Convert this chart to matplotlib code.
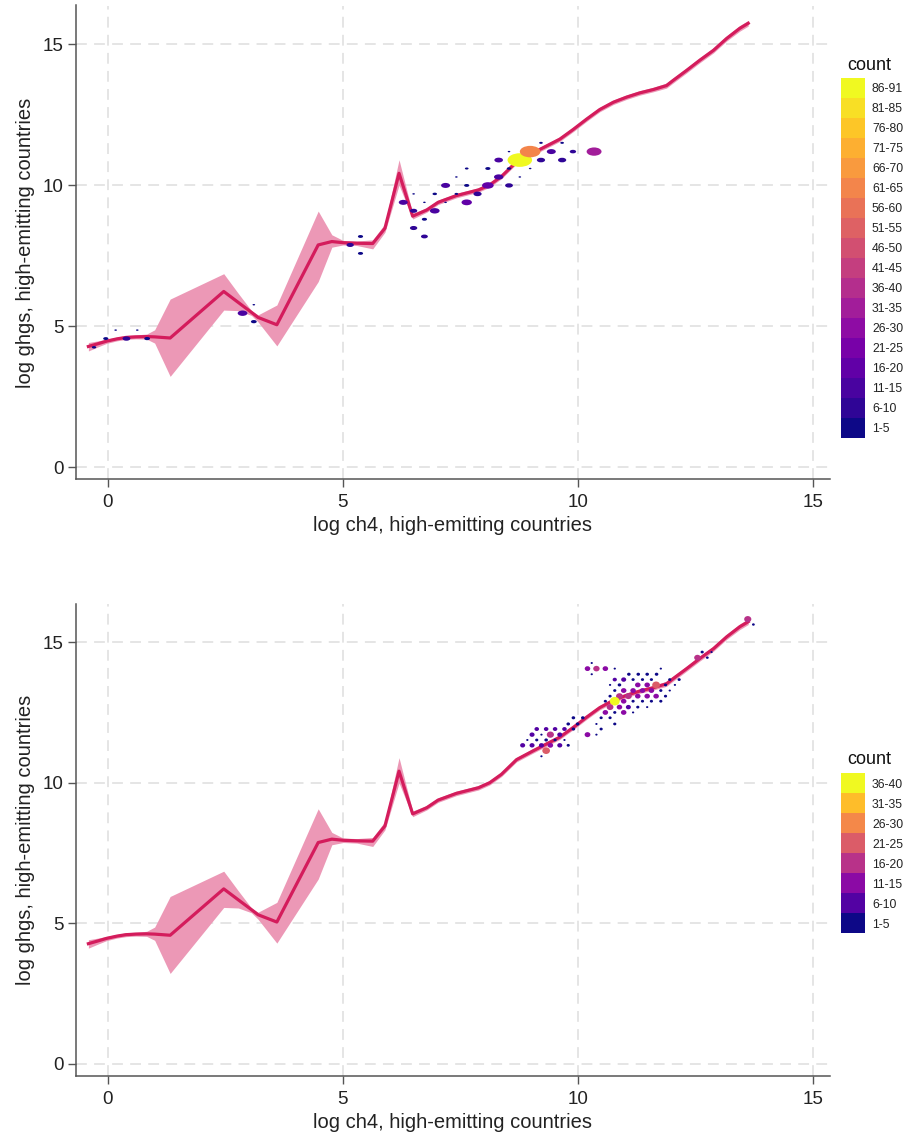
import numpy as np
import matplotlib
matplotlib.use("Agg")
import matplotlib.pyplot as plt
from matplotlib.colors import ListedColormap, BoundaryNorm
from matplotlib.cm import ScalarMappable
from matplotlib.path import Path
from matplotlib.transforms import Affine2D

plt.rcParams['font.family'] = ['Liberation Sans', 'DejaVu Sans']

# fitted curve with its confidence band
fit_x = [-0.41, -0.2, -0.02, 0.2, 0.39, 0.6, 0.83, 1.0, 1.33, 2.47, 2.78, 3.06, 3.2, 3.6,
         4.48, 4.77, 5.01, 5.3, 5.64, 5.9, 6.2, 6.49, 6.79, 7.03, 7.42, 7.89, 8.13, 8.38,
         8.7, 9.06, 9.34, 9.62, 9.91, 10.19, 10.47, 10.76, 11.04, 11.32, 11.61, 11.89,
         12.03, 12.32, 12.6, 12.89, 13.17, 13.45, 13.63]
fit_y = [4.28, 4.38, 4.47, 4.55, 4.6, 4.62, 4.63, 4.62, 4.58, 6.23, 5.84, 5.49, 5.31, 5.05,
         7.88, 8.0, 7.96, 7.94, 7.93, 8.47, 10.42, 8.9, 9.12, 9.39, 9.63, 9.83, 10.01, 10.31,
         10.83, 11.15, 11.39, 11.63, 11.98, 12.34, 12.68, 12.94, 13.12, 13.27, 13.39, 13.53,
         13.71, 14.07, 14.43, 14.78, 15.2, 15.56, 15.74]
band_lo = [4.12, 4.27, 4.39, 4.48, 4.53, 4.55, 4.54, 4.40, 3.22, 5.57, 5.55, 5.38, 5.15, 4.30,
           6.58, 7.80, 7.88, 7.86, 7.74, 8.33, 10.0, 8.80, 9.04, 9.31, 9.55, 9.75, 9.93, 10.23,
           10.75, 11.07, 11.31, 11.55, 11.90, 12.26, 12.60, 12.86, 13.04, 13.19, 13.31, 13.44,
           13.62, 13.98, 14.34, 14.69, 15.11, 15.46, 15.64]
band_hi = [4.42, 4.48, 4.54, 4.61, 4.67, 4.69, 4.72, 4.87, 5.96, 6.86, 6.16, 5.55, 5.40, 5.75,
           9.08, 8.24, 8.04, 8.02, 8.06, 8.63, 10.9, 9.00, 9.20, 9.47, 9.71, 9.91, 10.09, 10.39,
           10.91, 11.23, 11.47, 11.71, 12.06, 12.42, 12.76, 13.02, 13.20, 13.35, 13.47, 13.62,
           13.80, 14.16, 14.52, 14.87, 15.29, 15.66, 15.84]

# hex cells, upper panel
top_x = [-0.29, -0.04, 0.17, 0.40, 0.63, 0.84, 2.87, 3.11, 3.11,
         5.16, 5.38, 5.38,
         6.29, 6.51, 6.51, 6.51, 6.74, 6.74, 6.74, 6.96, 6.96, 7.19, 7.19,
         7.42, 7.42, 7.64, 7.64, 7.64, 7.87, 8.09, 8.09, 8.32, 8.32,
         8.54, 8.54, 8.54, 8.77, 8.77, 8.99, 8.99, 9.22, 9.22, 9.44,
         9.67, 9.67, 9.90, 10.35]
top_y = [4.25, 4.56, 4.86, 4.56, 4.86, 4.56, 5.46, 5.16, 5.76,
         7.88, 8.18, 7.58,
         9.39, 9.69, 9.09, 8.48, 9.39, 8.79, 8.18, 9.69, 9.09, 9.99, 9.39,
         10.29, 9.69, 10.59, 9.99, 9.39, 9.69, 9.99, 10.59, 10.29, 10.89,
         9.99, 10.59, 11.19, 10.89, 10.29, 11.19, 10.59, 11.50, 10.89, 11.19,
         11.50, 10.89, 11.19, 11.19]
top_n = [3, 4, 1, 9, 1, 5, 14, 5, 1,
         8, 4, 4,
         12, 1, 8, 8, 1, 4, 7, 3, 14, 12, 1,
         1, 2, 2, 4, 16, 10, 20, 4, 13, 11,
         9, 3, 1, 89, 1, 63, 1, 2, 10, 12,
         2, 10, 6, 33]
top_labels = ['1-5', '6-10', '11-15', '16-20', '21-25', '26-30', '31-35', '36-40', '41-45',
              '46-50', '51-55', '56-60', '61-65', '66-70', '71-75', '76-80', '81-85', '86-91']

# hex cells, lower panel
bot_x = [13.62, 13.74, 12.65, 12.85, 12.55, 12.76,
         10.30, 10.21, 10.40, 10.59, 10.79, 11.77,
         10.30, 11.09, 11.29, 11.48, 11.68,
         10.79, 10.98, 11.18, 11.38, 11.57, 11.96, 12.16,
         10.69, 10.89, 11.28, 11.48, 11.67, 11.87, 12.07,
         10.79, 10.98, 11.18, 11.38, 11.57, 11.77, 11.96,
         10.69, 10.89, 11.08, 11.28, 11.48, 11.67, 11.87,
         10.59, 10.79, 10.98, 11.18, 11.38, 11.57, 11.77,
         10.69, 10.89, 11.08, 11.28, 11.48,
         10.59, 10.79, 10.98, 11.18,
         9.91, 10.11, 10.50, 10.69,
         9.80, 10.00, 10.40, 10.79,
         9.13, 9.33, 9.52, 9.72, 9.91, 10.50,
         9.03, 9.23, 9.42, 9.62, 10.21, 10.40,
         8.93, 9.13, 9.33, 9.52, 9.72,
         8.83, 9.03, 9.23, 9.42, 9.62, 9.80,
         9.33, 9.23]
bot_y = [15.83, 15.64, 14.66, 14.66, 14.46, 14.46,
         14.27, 14.07, 14.07, 14.07, 14.07, 14.07,
         13.87, 13.87, 13.87, 13.87, 13.87,
         13.68, 13.68, 13.68, 13.68, 13.68, 13.68, 13.68,
         13.49, 13.49, 13.49, 13.49, 13.49, 13.49, 13.49,
         13.29, 13.29, 13.29, 13.29, 13.29, 13.29, 13.29,
         13.09, 13.09, 13.09, 13.09, 13.09, 13.09, 13.09,
         12.91, 12.91, 12.91, 12.91, 12.91, 12.91, 12.91,
         12.70, 12.70, 12.70, 12.70, 12.70,
         12.51, 12.51, 12.51, 12.51,
         12.32, 12.32, 12.32, 12.32,
         12.10, 12.10, 12.10, 12.10,
         11.92, 11.92, 11.92, 11.92, 11.92, 11.92,
         11.72, 11.72, 11.72, 11.72, 11.72, 11.72,
         11.53, 11.53, 11.53, 11.53, 11.53,
         11.34, 11.34, 11.34, 11.34, 11.34, 11.34,
         11.15, 10.95]
bot_n = [20, 3, 4, 2, 17, 3,
         2, 12, 16, 12, 2, 2,
         2, 5, 5, 5, 5,
         7, 10, 4, 4, 4, 4, 4,
         2, 5, 12, 12, 24, 4, 2,
         4, 12, 12, 12, 12, 4, 2,
         4, 18, 18, 12, 12, 12, 4,
         4, 38, 12, 4, 4, 4, 4,
         18, 12, 10, 4, 2,
         12, 4, 12, 2,
         5, 5, 4, 4,
         5, 5, 2, 4,
         8, 8, 8, 8, 5, 4,
         10, 2, 20, 10, 13, 2,
         2, 4, 5, 4, 2,
         10, 10, 10, 12, 10, 4,
         23, 2]
bot_labels = ['1-5', '6-10', '11-15', '16-20', '21-25', '26-30', '31-35', '36-40']

line_color = '#d41c5c'
band_color = '#ec98b6'
grid_color = '#e3e3e3'
spine_color = '#555555'

fig = plt.figure(figsize=(9.05, 11.38), dpi=100)
W, H = 905, 1138


def px_axes(x0, y0, x1, y1):
    return fig.add_axes([x0 / W, 1 - y1 / H, (x1 - x0) / W, (y1 - y0) / H])


def flat_marker(aspect):
    return Path.unit_circle().transformed(Affine2D().scale(1.0, 1.0 / aspect))


def draw_panel(ax, hx, hy, hn, labels, k, aspect, cax, title_y):
    nb = len(labels)
    cmap = ListedColormap(plt.cm.plasma(np.linspace(0, 1, nb)))
    norm = BoundaryNorm(np.arange(nb + 1), nb)
    hn = np.array(hn)
    idx = np.minimum((hn - 1) // 5, nb - 1) + 0.5

    ax.fill_between(fit_x, band_lo, band_hi, color=band_color, lw=0, zorder=2)
    ax.plot(fit_x, fit_y, color=line_color, lw=2.3, zorder=3)
    ax.scatter(hx, hy, c=idx, cmap=cmap, norm=norm, s=(0.72 * k) ** 2 * hn,
               marker=flat_marker(aspect), linewidths=0, zorder=4)

    ax.set_xlim(-0.68, 15.37)
    ax.set_ylim(-0.43, 16.37)
    ax.set_xticks([0, 5, 10, 15])
    ax.set_yticks([0, 5, 10, 15])
    ax.grid(True, color=grid_color, lw=1.3, ls=(0, (6, 4)))
    ax.set_axisbelow(True)
    for s in ['top', 'right']:
        ax.spines[s].set_visible(False)
    for s in ['left', 'bottom']:
        ax.spines[s].set_color(spine_color)
        ax.spines[s].set_linewidth(1.1)
    ax.tick_params(length=5.5, width=1.0, color=spine_color, labelsize=13.5,
                   labelcolor='#222222')
    ax.tick_params(axis='x', pad=5)
    ax.tick_params(axis='y', pad=3)
    ax.set_xlabel('log ch4, high-emitting countries', fontsize=14.5, color='#222222',
                  labelpad=4)
    ax.set_ylabel('log ghgs, high-emitting countries', fontsize=14.5, color='#222222',
                  labelpad=6)

    cb = fig.colorbar(ScalarMappable(norm=norm, cmap=cmap), cax=cax)
    cb.outline.set_visible(False)
    cb.set_ticks(np.arange(nb) + 0.5)
    cb.set_ticklabels(labels)
    cb.minorticks_off()
    cax.tick_params(which='both', length=0, pad=5, labelsize=8.8, labelcolor='#222222')
    fig.text(847 / W, 1 - title_y / H, 'count', fontsize=13, color='#111111',
             ha='left', va='bottom')


ax1 = px_axes(75.7, 5.5, 830, 479.3)
cax1 = px_axes(841, 78, 865, 438)
draw_panel(ax1, top_x, top_y, top_n, top_labels, 2.6, 1.8, cax1, 74)

ax2 = px_axes(75.7, 604, 830, 1076)
cax2 = px_axes(841, 773, 865, 933)
draw_panel(ax2, bot_x, bot_y, bot_n, bot_labels, 1.6, 1.15, cax2, 768)

fig.savefig('out.png', dpi=100)
